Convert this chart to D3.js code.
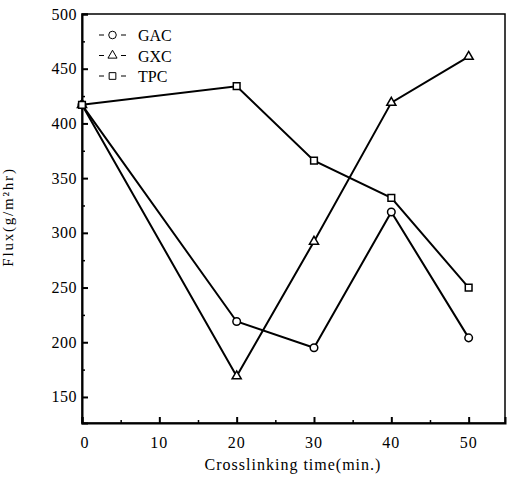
<!DOCTYPE html>
<html>
<head>
  <style>
    body { margin: 0; background: #fff; }
    text { font-family: "Liberation Serif", "DejaVu Serif", serif; fill: #000; }
  </style>
</head>
<body>
  <div id="chart"></div>
  <script src="https://d3js.org/d3.v7.min.js"></script>
  <script>
  // data
  var times = [0, 20, 30, 40, 50];
  var gac = [417, 219, 195, 319, 204];
  var gxc = [417, 169, 292, 419, 461];
  var tpc = [417, 434, 366, 332, 250];
  var seriesNames = ["GAC", "GXC", "TPC"];
  var xTicks = [0, 10, 20, 30, 40, 50];
  var yTicks = [150, 200, 250, 300, 350, 400, 450, 500];

  var width = 508, height = 477;
  // plot box edges (note: "top" is a reserved window global, so use plot*)
  var plotL = 82, plotR = 505, plotT = 14, plotB = 423;

  var svg = d3.select("#chart").append("svg")
      .attr("width", width)
      .attr("height", height);

  var x = d3.scaleLinear().domain([0, 54.7]).range([plotL, plotR]);
  var y = d3.scaleLinear().domain([126.2, 500]).range([plotB, plotT]);

  // frame
  svg.append("rect")
    .attr("x", plotL).attr("y", plotT)
    .attr("width", plotR - plotL).attr("height", plotB - plotT)
    .attr("fill", "none").attr("stroke", "#000").attr("stroke-width", 1.5);

  // left axis, ticks pointing inward
  var yAxis = svg.append("g")
    .attr("transform", "translate(" + plotL + ",0)")
    .call(d3.axisRight(y).tickValues(yTicks).tickSize(6).tickFormat(""));
  yAxis.select(".domain").attr("stroke-width", 2);
  yAxis.selectAll(".tick line").attr("stroke-width", 2);
  svg.append("g")
    .attr("transform", "translate(" + plotL + ",0)")
    .call(d3.axisRight(y).tickValues(d3.range(175, 500, 50)).tickSize(3).tickFormat(""))
    .call(g => g.select(".domain").remove())
    .selectAll(".tick line").attr("stroke-width", 1.5);
  svg.append("g").selectAll("text")
    .data(yTicks)
    .join("text")
      .attr("x", plotL - 5)
      .attr("y", d => y(d) + 5.5)
      .attr("text-anchor", "end")
      .attr("font-size", 16)
      .attr("letter-spacing", 0.5)
      .text(d => d);

  // bottom axis, ticks pointing up
  var xAxis = svg.append("g")
    .attr("transform", "translate(0," + plotB + ")")
    .call(d3.axisTop(x).tickValues(xTicks).tickSize(6).tickFormat(""));
  xAxis.select(".domain").attr("stroke-width", 2);
  xAxis.selectAll(".tick line").attr("stroke-width", 2);
  svg.append("g")
    .attr("transform", "translate(0," + plotB + ")")
    .call(d3.axisTop(x).tickValues(d3.range(5, 50, 10)).tickSize(3).tickFormat(""))
    .call(g => g.select(".domain").remove())
    .selectAll(".tick line").attr("stroke-width", 1.5);
  svg.append("g").selectAll("text")
    .data(xTicks)
    .join("text")
      .attr("x", d => x(d) + (d === 0 ? 3 : 0))
      .attr("y", plotB + 25)
      .attr("text-anchor", "middle")
      .attr("font-size", 16)
      .attr("letter-spacing", 1)
      .text(d => d);

  // axis titles
  svg.append("text")
    .attr("x", 293).attr("y", 470)
    .attr("text-anchor", "middle")
    .attr("font-size", 16)
    .attr("letter-spacing", 1)
    .text("Crosslinking time(min.)");
  svg.append("text")
    .attr("transform", "translate(13,217) rotate(-90)")
    .attr("text-anchor", "middle")
    .attr("font-size", 15)
    .attr("letter-spacing", 1.8)
    .text("Flux(g/m²hr)");

  // lines
  var line = d3.line().x((d, i) => x(times[i])).y(d => y(d));
  [gac, gxc, tpc].forEach(function(vals) {
    svg.append("path")
      .datum(vals)
      .attr("d", line)
      .attr("fill", "none")
      .attr("stroke", "#000")
      .attr("stroke-width", 2);
  });

  var symbols = {
    GAC: d3.symbol().type(d3.symbolCircle).size(45),
    GXC: d3.symbol().type(d3.symbolTriangle).size(36),
    TPC: d3.symbol().type(d3.symbolSquare).size(45)
  };

  function marker(g, name, cx, cy) {
    g.append("path")
      .attr("d", symbols[name]())
      .attr("transform", "translate(" + cx + "," + cy + ")")
      .attr("fill", "#fff")
      .attr("stroke", "#000")
      .attr("stroke-width", 1.5);
  }

  var markG = svg.append("g");
  [gac, gxc, tpc].forEach(function(vals, k) {
    vals.forEach(function(v, i) {
      marker(markG, seriesNames[k], x(times[i]), y(v));
    });
  });

  // legend
  var leg = svg.append("g");
  seriesNames.forEach(function(name, k) {
    var ly = 35 + k * 20.5;
    leg.append("line").attr("x1", 99).attr("x2", 104).attr("y1", ly).attr("y2", ly)
      .attr("stroke", "#000").attr("stroke-width", 1);
    leg.append("line").attr("x1", 121).attr("x2", 126).attr("y1", ly).attr("y2", ly)
      .attr("stroke", "#000").attr("stroke-width", 1);
    leg.append("path")
      .attr("d", symbols[name]())
      .attr("transform", "translate(112.5," + ly + ")")
      .attr("fill", "#fff").attr("stroke", "#000").attr("stroke-width", 1);
    leg.append("text")
      .attr("x", 138).attr("y", ly + 6)
      .attr("font-size", 16)
      .text(name);
  });
  </script>
</body>
</html>
